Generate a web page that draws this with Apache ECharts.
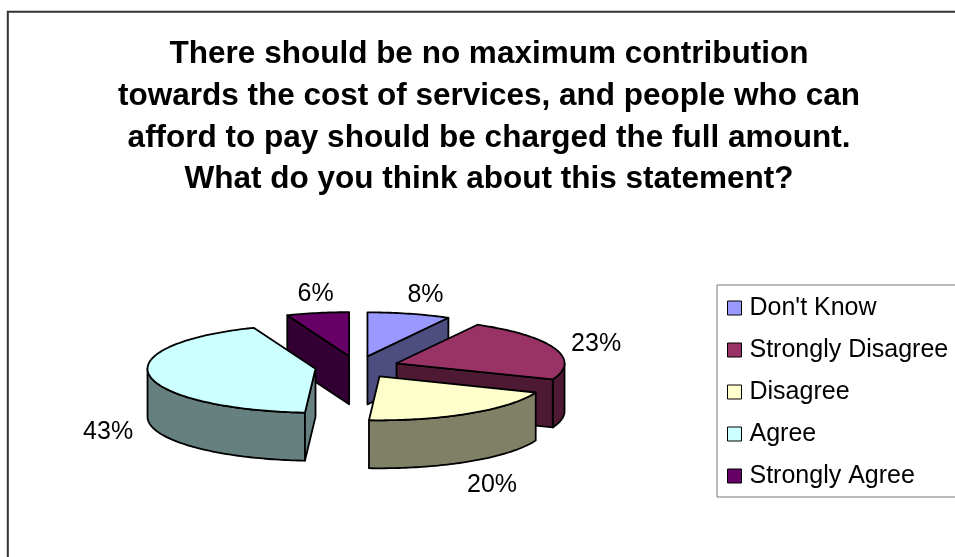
<!DOCTYPE html>
<html>
<head>
<meta charset="utf-8">
<script src="https://cdn.jsdelivr.net/npm/echarts@6/dist/echarts.min.js"></script>
<style>
html,body{margin:0;padding:0;background:#fff;}
#chart{width:955px;height:557px;}
</style>
</head>
<body>
<div id="chart"></div>
<script>
const categories = ["Don't Know", "Strongly Disagree", "Disagree", "Agree", "Strongly Agree"];
const values = [8, 23, 20, 43, 6];
const titleLines = [
  "There should be no maximum contribution",
  "towards the cost of services, and people who can",
  "afford to pay should be charged the full amount.",
  "What do you think about this statement?"
];

const topColors = ['#9999FF', '#993366', '#FFFFCC', '#CCFFFF', '#660066'];
const sideColors = ['#4D4D80', '#4D1933', '#808066', '#668080', '#330033'];

// layout of the pseudo-3D pie
const CX = 357, CY = 367, RX = 168, RY = 44, DEPTH = 48, EXPLODE = 0.25;
const FONT = 'Liberation Sans, Arial, sans-serif';

const total = values.reduce((a, b) => a + b, 0);
const starts = [];
{
  let acc = 0;
  values.forEach(v => { starts.push(acc / total * Math.PI * 2); acc += v; });
}
const mids = values.map((v, i) => starts[i] + v / total * Math.PI);
// draw order: back slices first
const order = mids.map((m, i) => i).sort((a, b) => Math.cos(mids[b]) - Math.cos(mids[a]));
const rank = [];
order.forEach((idx, r) => { rank[idx] = r; });

function makeRender(k) {
  return function (params, api) {
    const v = api.value(0);
    const a0 = starts[k];
    const a1 = a0 + v / total * Math.PI * 2;
    const mid = (a0 + a1) / 2;
    const cx = CX + EXPLODE * RX * Math.sin(mid);
    const cy = CY - EXPLODE * RY * Math.cos(mid);
    const pt = (t, dz) => [cx + RX * Math.sin(t), cy - RY * Math.cos(t) + (dz || 0)];
    const arc = (s, e, dz) => {
      const n = Math.max(2, Math.ceil((e - s) / 0.02));
      const out = [];
      for (let i = 0; i <= n; i++) out.push(pt(s + (e - s) * i / n, dz));
      return out;
    };
    const stroke = { stroke: '#000', lineWidth: 1.8, lineJoin: 'round' };
    const children = [];
    // outer curved side (front half only)
    const s = Math.max(a0, Math.PI / 2), e = Math.min(a1, Math.PI * 1.5);
    if (s < e) {
      const pts = arc(s, e, 0).concat(arc(s, e, DEPTH).reverse());
      children.push({ type: 'polygon', shape: { points: pts }, style: Object.assign({ fill: sideColors[k] }, stroke) });
    }
    const apex = [cx, cy], apexB = [cx, cy + DEPTH];
    if (Math.sin(a0) < -1e-6) {
      children.push({ type: 'polygon', shape: { points: [apex, pt(a0, 0), pt(a0, DEPTH), apexB] },
        style: Object.assign({ fill: sideColors[k] }, stroke) });
    }
    if (Math.sin(a1) > 1e-6) {
      children.push({ type: 'polygon', shape: { points: [apex, pt(a1, 0), pt(a1, DEPTH), apexB] },
        style: Object.assign({ fill: sideColors[k] }, stroke) });
    }
    // top face
    children.push({ type: 'polygon', shape: { points: [apex].concat(arc(a0, a1, 0)) },
      style: Object.assign({ fill: topColors[k] }, stroke) });
    // label
    const lx = CX + Math.sin(mid) * RX * 1.5 + 6 * Math.max(0, Math.cos(mid));
    const ly = CY + 3 - Math.cos(mid) * RY * 1.75 + (Math.cos(mid) < 0 ? DEPTH * 1.05 : 0);
    children.push({ type: 'text', style: {
      text: Math.round(v / total * 100) + '%', x: lx, y: ly,
      align: 'center', verticalAlign: 'middle',
      font: '25px ' + FONT, fill: '#000' } });
    return { type: 'group', children: children };
  };
}

const series = categories.map((name, k) => ({
  type: 'custom',
  name: name,
  coordinateSystem: 'none',
  z: 2 + rank[k],
  itemStyle: { color: topColors[k], borderColor: '#000', borderWidth: 1 },
  data: [[values[k]]],
  renderItem: makeRender(k)
}));

const chart = echarts.init(document.getElementById('chart'), null, { renderer: 'canvas' });
chart.setOption({
  backgroundColor: '#fff',
  animation: false,
  title: {
    text: titleLines.join('\n'),
    left: 489,
    top: 34,
    textAlign: 'center',
    padding: 0,
    textStyle: { fontFamily: FONT, fontWeight: 'bold', fontSize: 31.5, lineHeight: 41.6, color: '#000' }
  },
  legend: {
    orient: 'vertical',
    left: 717,
    top: 285,
    padding: [8, 30, 6, 10],
    itemGap: 12,
    itemWidth: 14,
    itemHeight: 14,
    icon: 'rect',
    borderColor: '#777',
    borderWidth: 1,
    borderRadius: 0,
    itemStyle: { borderColor: '#000', borderWidth: 1 },
    textStyle: { fontFamily: FONT, fontSize: 25, lineHeight: 30, color: '#000', padding: [0, 0, 0, 3] },
    data: categories
  },
  graphic: [{
    type: 'rect', z: -1, silent: true,
    shape: { x: 7.8, y: 11.8, width: 1000, height: 700 },
    style: { fill: 'none', stroke: '#333', lineWidth: 2 }
  }],
  series: series
});
</script>
</body>
</html>
